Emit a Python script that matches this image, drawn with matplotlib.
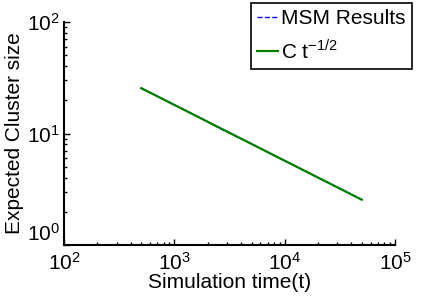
import matplotlib
matplotlib.use("Agg")
import matplotlib.pyplot as plt

plt.rcParams["font.family"] = ["Liberation Sans", "DejaVu Sans"]

# MSM simulation results
msm_t = [500, 700, 1000, 1500, 2000, 3000, 5000, 7000, 10000, 15000, 20000, 30000, 50000]
msm_size = [25.4, 21.6, 18.0, 14.8, 12.7, 10.3, 8.1, 6.8, 5.7, 4.66, 4.02, 3.3, 2.56]

# fitted power law C t^-1/2 (end points)
fit_t = [500, 50000]
fit_size = [25.5, 2.55]

fig = plt.figure(figsize=(4.36, 3.0), dpi=100)
ax = fig.add_axes([0.147, 0.183, 0.759, 0.744])

ax.loglog(msm_t, msm_size, "--", color="blue", linewidth=1.0, label="MSM Results")
ax.loglog(fit_t, fit_size, "-", color="green", linewidth=1.6,
          label="C t$^{\\mathregular{-1/2}}$")

ax.set_xlim(1e2, 1e5)
ax.set_ylim(1e0, 1e2)
ax.set_yticks([1, 10, 100])
ax.set_xticks([1e2, 1e3, 1e4, 1e5])
ax.spines["top"].set_visible(False)
ax.spines["right"].set_visible(False)
for s in ("left", "bottom"):
    ax.spines[s].set_linewidth(1.5)
ax.tick_params(which="both", direction="in", top=False, right=False, labelsize=15)
ax.tick_params(which="major", length=4, width=1)
ax.tick_params(which="minor", length=2, width=1)
ax.tick_params(axis="x", pad=5)
ax.tick_params(axis="y", pad=3)
# bottom y label sits above the axis corner, like the original
ax.get_yticklabels()[0].set_va("bottom")

ax.set_xlabel("Simulation time(t)", fontsize=15, labelpad=-1)
ax.set_ylabel("Expected Cluster size", fontsize=15, labelpad=2)

leg = ax.legend(loc="upper right", bbox_to_anchor=(1.05, 1.085), fontsize=15,
                handlelength=1.0, handletextpad=0.15, borderpad=0.3,
                labelspacing=0.5, borderaxespad=0, fancybox=False, framealpha=1)
leg.get_frame().set_edgecolor("black")
leg.get_frame().set_linewidth(1.2)

fig.savefig("out.png", dpi=100)
